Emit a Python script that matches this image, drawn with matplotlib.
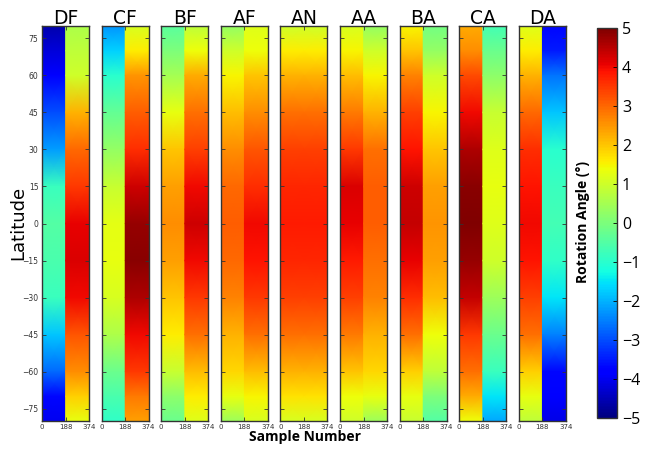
import numpy as np
import matplotlib
matplotlib.use("Agg")
import matplotlib.pyplot as plt
from matplotlib.colors import Normalize

panels = ["DF", "CF", "BF", "AF", "AN", "AA", "BA", "CA", "DA"]
lats = [80, 70, 60, 45, 30, 15, 0, -15, -30, -45, -60, -70, -80]

# rotation angle (deg) per panel: (left column samples 0-188, right column samples 188-374)
DF_left  = [-4.6, -4.2, -3.8, -3.0, -2.2, -0.8, -0.5, -0.6, -0.8, -1.8, -2.7, -3.7, -4.0]
DF_right = [0.6, 0.8, 1.0, 2.2, 3.0, 3.5, 4.1, 4.2, 4.0, 3.2, 2.6, 1.9, 1.3]
CF_left  = [-2.3, -1.7, -1.0, -0.3, 0.3, 0.9, 1.25, 1.3, 1.1, 0.6, -0.2, -0.6, -0.9]
CF_right = [1.1, 1.6, 2.5, 3.1, 3.6, 4.3, 4.8, 4.9, 4.6, 4.0, 3.5, 2.8, 2.4]
BF_left  = [-0.4, 0.0, 0.5, 1.3, 2.0, 2.4, 2.6, 2.4, 2.0, 1.6, 0.9, 0.2, -0.2]
BF_right = [0.8, 1.4, 2.3, 2.9, 3.4, 4.0, 4.3, 4.0, 3.5, 2.9, 2.1, 1.6, 1.2]
AF_left  = [0.3, 1.0, 1.5, 2.1, 2.6, 3.0, 3.1, 3.0, 2.7, 2.2, 1.8, 1.3, 0.4]
AF_right = [1.2, 1.4, 2.0, 2.6, 3.2, 3.6, 4.0, 3.9, 3.5, 2.9, 2.1, 1.5, 1.1]
AN_left  = [1.0, 1.6, 2.2, 2.9, 3.4, 3.7, 3.8, 3.7, 3.4, 2.9, 2.2, 1.7, 1.1]
AN_right = [1.0, 1.6, 2.2, 2.9, 3.4, 3.7, 3.8, 3.7, 3.4, 2.9, 2.2, 1.7, 1.1]
AA_left  = [1.1, 1.5, 2.1, 2.8, 3.5, 4.2, 4.1, 3.8, 3.4, 2.8, 2.0, 1.4, 1.0]
AA_right = [0.3, 1.0, 1.5, 2.2, 2.9, 3.1, 3.1, 2.9, 2.7, 2.2, 1.8, 1.3, 0.4]
BA_left  = [1.5, 2.0, 2.7, 3.4, 3.9, 4.3, 4.4, 4.1, 3.6, 2.9, 1.9, 1.3, 0.9]
BA_right = [-0.1, 0.3, 1.0, 1.5, 2.0, 2.4, 2.5, 2.4, 2.1, 1.4, 0.8, 0.0, -0.5]
CA_left  = [2.3, 2.6, 3.3, 4.0, 4.6, 4.9, 5.0, 4.8, 4.4, 3.5, 2.9, 2.3, 1.4]
CA_right = [-0.7, -0.2, 0.2, 0.9, 1.2, 1.3, 1.2, 1.0, 0.4, -0.2, -0.8, -1.5, -2.1]
DA_left  = [1.2, 1.6, 2.2, 3.0, 3.6, 3.9, 4.0, 3.9, 3.4, 2.9, 1.9, 1.3, 0.8]
DA_right = [-3.7, -3.5, -2.6, -1.8, -1.0, -0.8, -0.7, -0.9, -1.5, -2.5, -3.7, -3.9, -4.1]

data = {
    "DF": (DF_left, DF_right), "CF": (CF_left, CF_right), "BF": (BF_left, BF_right),
    "AF": (AF_left, AF_right), "AN": (AN_left, AN_right), "AA": (AA_left, AA_right),
    "BA": (BA_left, BA_right), "CA": (CA_left, CA_right), "DA": (DA_left, DA_right),
}
col_edges = [(0, 188), (188, 374)]
yticks = [75, 60, 45, 30, 15, 0, -15, -30, -45, -60, -75]
xticks = [0, 188, 374]

W, H = 648, 449
fig = plt.figure(figsize=(W / 100, H / 100), dpi=100)
norm = Normalize(-5, 5)
cmap = plt.get_cmap("jet")

x0, pw, step = 42, 47, 59.6
ytop, ybot = 26, 421
mesh = None
for i, name in enumerate(panels):
    left = x0 + i * step
    ax = fig.add_axes([left / W, 1 - ybot / H, pw / W, (ybot - ytop) / H])
    for (xa, xb), vals in zip(col_edges, data[name]):
        v = np.array(vals)
        C = np.column_stack([v, v])
        mesh = ax.pcolormesh([xa, xb], lats, C, shading="gouraud", cmap=cmap, norm=norm)
    ax.set_xlim(0, 374)
    ax.set_ylim(-80, 80)
    ax.set_xticks(xticks)
    ax.set_xticklabels([str(t) for t in xticks], fontsize=5, color="#333333")
    ax.set_yticks(yticks)
    ax.tick_params(axis="both", direction="in", length=3, width=0.6, color="#333333",
                   top=True, right=True, pad=2.5)
    ax.tick_params(axis="y", labelsize=5.5, labelcolor="#333333")
    if i != 0:
        ax.set_yticklabels([])
    for s in ax.spines.values():
        s.set_linewidth(1.0)
        s.set_color("#333333")
    ax.set_title(name, fontsize=13.5, pad=1.5)

fig.text(18 / W, 1 - 223 / H, "Latitude", rotation=90, ha="center", va="center", fontsize=13)
fig.text(305 / W, 1 - 437 / H, "Sample Number", ha="center", va="center",
         fontsize=10, fontweight="bold", family="Open Sans")

cax = fig.add_axes([597 / W, 1 - 418 / H, 20 / W, 390 / H])
cb = fig.colorbar(mesh, cax=cax, ticks=np.arange(-5, 6, 1))
cb.ax.tick_params(labelsize=11.5, length=3, direction="in", width=0.6)
cb.outline.set_linewidth(1.0)
cb.outline.set_edgecolor("#333333")
cax.yaxis.set_ticks_position("right")
for t in cax.get_yticklabels():
    t.set_family("Open Sans")
fig.text(583 / W, 1 - 222 / H, "Rotation Angle (°)", rotation=90, ha="center", va="center",
         fontsize=10, fontweight="bold", family="Open Sans")

fig.savefig("out.png", dpi=100)
